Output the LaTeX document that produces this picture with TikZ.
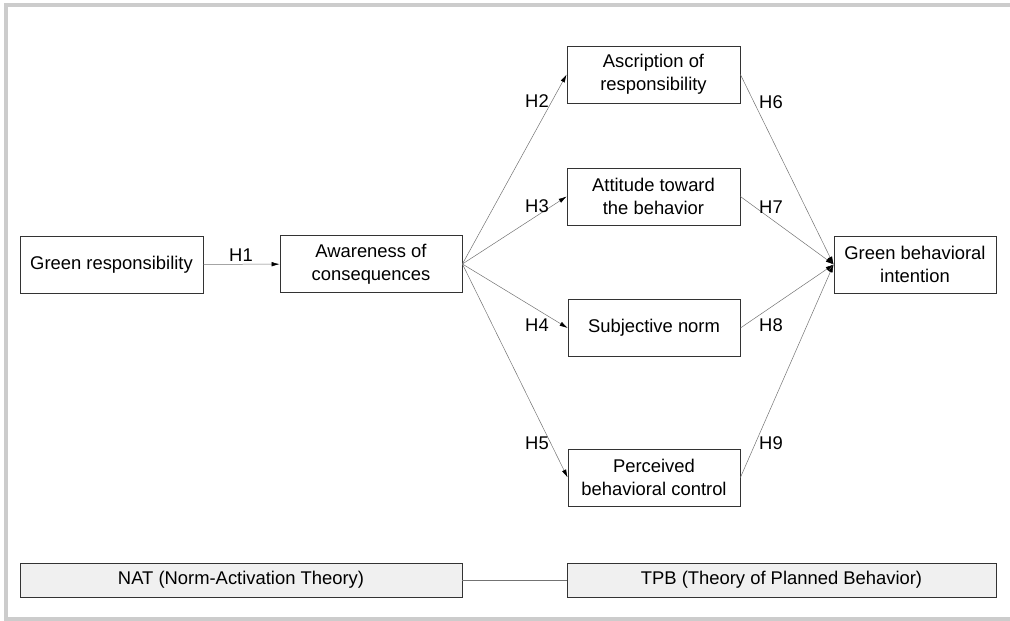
\documentclass[tikz,border=0pt]{standalone}
\usepackage{fontspec}
\setmainfont{Liberation Sans}
\usepackage{tikz}
\usetikzlibrary{arrows.meta}

\tikzset{
  box/.style={draw=black!80,line width=0.8pt,fill=white,minimum height=57pt,align=center,inner sep=0pt},
  theory/.style={draw=black!80,line width=0.8pt,fill=black!6,minimum height=34pt,inner sep=0pt},
  link/.style={draw=black!55,line width=0.5pt},
  hyp/.style={inner sep=0pt}
}

\begin{document}
\begin{tikzpicture}[x=1pt,y=-1pt,>={Latex[length=8pt,width=4.5pt,color=black]},
    font=\fontsize{18.4}{23}\selectfont]
        \useasboundingbox (0,0) rectangle (1010,621);
        % frame
        \draw[black!20,line width=4pt] (1010,5) -- (5.5,5) -- (5.5,619) -- (1010,619);

        % constructs
        \node[box,minimum width=183pt] (green) at (111.5,264.5) {Green responsibility};
        \node[box,minimum width=182pt] (aware) at (371,264) {Awareness of\\consequences};
        \node[box,minimum width=173pt] (ascr) at (653.5,74.5) {Ascription of\\responsibility};
        \node[box,minimum width=173pt] (att) at (653.5,196.5) {Attitude toward\\the behavior};
        \node[box,minimum width=172pt] (subj) at (654,328) {Subjective norm};
        \node[box,minimum width=172pt] (perc) at (654,477.5) {Perceived\\behavioral control};
        \node[box,minimum width=162pt] (gbi) at (915,264.5) {Green behavioral\\intention};

        % theories
        \node[theory,minimum width=442pt] (nat) at (241,580) {NAT (Norm-Activation Theory)};
        \node[theory,minimum width=429pt] (tpb) at (781.5,580) {TPB (Theory of Planned Behavior)};
        \draw[link] (nat) -- (tpb);

        % paths
        \draw[link,->] (green) -- (aware);
        \draw[link,->] (aware.east) -- (ascr.west);
        \draw[link,->] (aware.east) -- (att.west);
        \draw[link,->] (aware.east) -- (subj.west);
        \draw[link,->] (aware.east) -- (perc.west);
        \draw[link,->] (ascr.east) -- (gbi.west);
        \draw[link,->] (att.east) -- (gbi.west);
        \draw[link,->] (subj.east) -- (gbi.west);
        \draw[link,->] (perc.east) -- (gbi.west);

        % hypotheses
        \node[hyp] (h1) at (241,255) {H1};
        \node[hyp] (h2) at (537,101) {H2};
        \node[hyp] (h3) at (537,206) {H3};
        \node[hyp] (h4) at (537,325) {H4};
        \node[hyp] (h5) at (537,443) {H5};
        \node[hyp] (h6) at (771,102) {H6};
        \node[hyp] (h7) at (771,207) {H7};
        \node[hyp] (h8) at (771,325) {H8};
        \node[hyp] (h9) at (771,443) {H9};
\end{tikzpicture}
\end{document}
